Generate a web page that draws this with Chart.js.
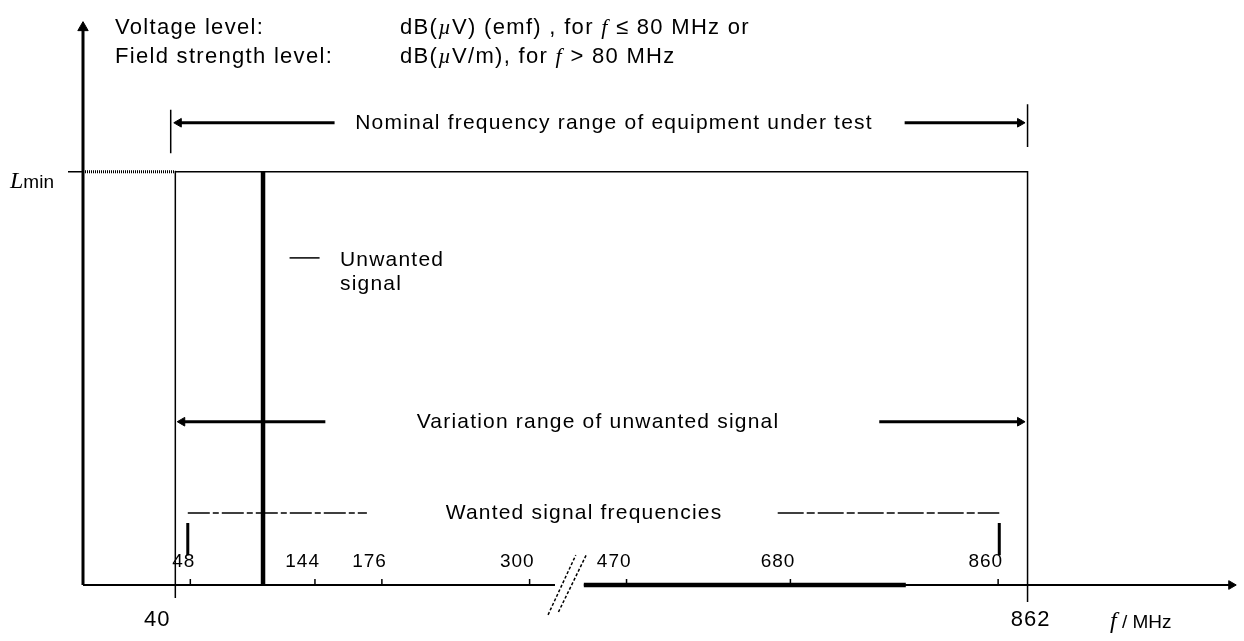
<!DOCTYPE html>
<html>
<head>
<meta charset="utf-8">
<script src="https://cdn.jsdelivr.net/npm/chart.js@4.4.0/dist/chart.umd.min.js"></script>
<style>
html, body { margin: 0; padding: 0; background: #fff; }
</style>
</head>
<body>
<canvas id="myChart" width="1244" height="641"></canvas>
<script>
// schematic axis: x runs 0..100 along the frequency axis (with a break), y 0..100 is level
const tickLabels = ['48', '144', '176', '300', '470', '680', '860'];
const tickPos = [9.3, 20.1, 25.9, 38.7, 47.1, 61.3, 79.3];
const edgeLabels = ['40', '862'];
const edgePos = [8.0, 81.85];
const unwantedPos = 15.6;
const lMin = 73.4;
const rangeNames = ['Nominal frequency range of equipment under test', 'Variation range of unwanted signal', 'Wanted signal frequencies'];
const rangeLevels = [82.1, 29.0, 12.8];
const breakPos = [40.9, 43.4];
const boldAxisEnd = 71.3;

function seg(points, width, extra) {
    return Object.assign({
        data: points.map(p => ({ x: p[0], y: p[1] })),
        borderColor: '#000',
        backgroundColor: '#000',
        borderWidth: width,
        pointRadius: 0,
        showLine: true,
        fill: false,
        clip: false,
        tension: 0
    }, extra || {});
}

function arrowSeg(points, width, dir) {
    // dir: 'left' arrow at first point, 'right' / 'up' arrow at last point
    const radius = points.map(() => 0);
    const rot = points.map(() => 0);
    if (dir === 'left') { radius[0] = 5; rot[0] = -90; }
    if (dir === 'right') { radius[radius.length - 1] = 5; rot[rot.length - 1] = 90; }
    if (dir === 'up') { radius[radius.length - 1] = 6; rot[rot.length - 1] = 0; }
    return seg(points, width, { pointRadius: radius, pointStyle: 'triangle', rotation: rot, pointBorderWidth: 1 });
}

const datasets = [
    // axes
    arrowSeg([[0, 0], [0, 99]], 3, 'up'),
    seg([[0, 0], [breakPos[0], 0]], 2),
    arrowSeg([[breakPos[1], 0], [99.5, 0]], 2, 'right'),
    seg([[breakPos[1], 0], [boldAxisEnd, 0]], 4.5),
    // axis break
    seg([[40.3, -5.3], [42.7, 5.3]], 1.5, { borderDash: [3, 2] }),
    seg([[41.2, -4.8], [43.6, 5.3]], 1.5, { borderDash: [3, 2] }),
    // L_min dotted up to 40 MHz
    seg([[0, lMin], [edgePos[0], lMin]], 3, { borderDash: [1, 1] }),
    // equipment box
    seg([[edgePos[0], -2.3], [edgePos[0], lMin], [edgePos[1], lMin], [edgePos[1], -3]], 1.5),
    // unwanted signal
    seg([[unwantedPos, 0], [unwantedPos, lMin]], 4.5),
    seg([[17.9, 58.1], [20.5, 58.1]], 1.5),
    // nominal range
    seg([[7.6, 84.4], [7.6, 76.7]], 1.5),
    seg([[edgePos[1], 85.4], [edgePos[1], 77.8]], 1.5),
    arrowSeg([[8.3, rangeLevels[0]], [21.8, rangeLevels[0]]], 3, 'left'),
    arrowSeg([[71.2, rangeLevels[0]], [81.2, rangeLevels[0]]], 3, 'right'),
    // variation range
    arrowSeg([[8.6, rangeLevels[1]], [21.0, rangeLevels[1]]], 3, 'left'),
    arrowSeg([[69.0, rangeLevels[1]], [81.2, rangeLevels[1]]], 3, 'right'),
    // wanted frequencies
    seg([[9.08, rangeLevels[2]], [24.6, rangeLevels[2]]], 1.5, { borderDash: [22, 3, 6, 3] }),
    seg([[60.2, rangeLevels[2]], [79.4, rangeLevels[2]]], 1.5, { borderDash: [26, 3, 8, 3] }),
    seg([[9.08, 11.0], [9.08, 5.3]], 3),
    seg([[79.4, 11.0], [79.4, 5.3]], 3)
];

function richText(ctx, parts, x, y) {
    parts.forEach(p => {
        ctx.font = p[1];
        ctx.fillText(p[0], x, y);
        x += ctx.measureText(p[0]).width;
    });
}

const SANS = '"Liberation Sans", Arial, sans-serif';
const SERIF = '"Liberation Serif", "Times New Roman", serif';

const diagramPlugin = {
    id: 'diagram',
    afterDatasetsDraw(chart) {
        const ctx = chart.ctx;
        const px = v => chart.scales.x.getPixelForValue(v);
        const py = v => chart.scales.y.getPixelForValue(v);
        ctx.save();
        ctx.fillStyle = '#000';
        ctx.strokeStyle = '#000';

        // small ticks on the frequency axis
        ctx.lineWidth = 1.5;
        tickPos.forEach(p => {
            ctx.beginPath();
            ctx.moveTo(px(p), py(0));
            ctx.lineTo(px(p), py(0) - 6);
            ctx.stroke();
        });
        // L_min tick
        ctx.beginPath();
        ctx.moveTo(px(0) - 15, py(lMin));
        ctx.lineTo(px(0), py(lMin));
        ctx.stroke();

        // tick labels
        ctx.letterSpacing = '1px';
        ctx.font = '19px ' + SANS;
        ctx.textAlign = 'right';
        ctx.textBaseline = 'middle';
        tickLabels.forEach((t, i) => ctx.fillText(t, px(tickPos[i]) + 5, py(0) - 23));

        ctx.font = '22px ' + SANS;
        ctx.textAlign = 'center';
        ctx.fillText(edgeLabels[0], px(edgePos[0]) - 18, py(0) + 35);
        ctx.fillText(edgeLabels[1], px(edgePos[1]) + 3, py(0) + 35);

        // range captions
        ctx.letterSpacing = '1.2px';
        ctx.font = '21px ' + SANS;
        const capX = [614, 598, 584];
        rangeNames.forEach((t, i) => ctx.fillText(t, capX[i], py(rangeLevels[i])));

        // header
        ctx.textAlign = 'left';
        ctx.textBaseline = 'alphabetic';
        ctx.letterSpacing = '1.3px';
        ctx.font = '22px ' + SANS;
        ctx.fillText('Voltage level:', 115, 34);
        ctx.fillText('Field strength level:', 115, 63);
        const s = '22px ' + SANS, it = 'italic 22px ' + SERIF;
        richText(ctx, [['dB(', s], ['\u00b5', it], ['V) (emf) , for ', s], ['f', it], [' \u2264 80 MHz or', s]], 400, 34);
        richText(ctx, [['dB(', s], ['\u00b5', it], ['V/m), for ', s], ['f', it], [' > 80 MHz', s]], 400, 63);

        // unwanted signal label
        ctx.letterSpacing = '1.2px';
        ctx.font = '21px ' + SANS;
        ctx.fillText('Unwanted', 340, 266);
        ctx.fillText('signal', 340, 290);

        // axis titles
        ctx.letterSpacing = '0px';
        richText(ctx, [['L', 'italic 24px ' + SERIF], ['min', '19px ' + SANS]], 10, 188);
        richText(ctx, [['f', 'italic 24px ' + SERIF], [' / MHz', '19px ' + SANS]], 1110, 628);
        ctx.restore();
    }
};

const config = {
    type: 'scatter',
    data: { datasets: datasets },
    options: {
        responsive: false,
        devicePixelRatio: 1,
        animation: false,
        layout: { padding: { left: 83, right: 4, top: 22, bottom: 56 } },
        plugins: { legend: { display: false }, tooltip: { enabled: false } },
        scales: {
            x: { type: 'linear', min: 0, max: 100, display: false },
            y: { type: 'linear', min: 0, max: 100, display: false }
        }
    },
    plugins: [diagramPlugin]
};

window.onload = function () {
    const ctx = document.getElementById('myChart').getContext('2d');
    new Chart(ctx, config);
};
</script>
</body>
</html>
